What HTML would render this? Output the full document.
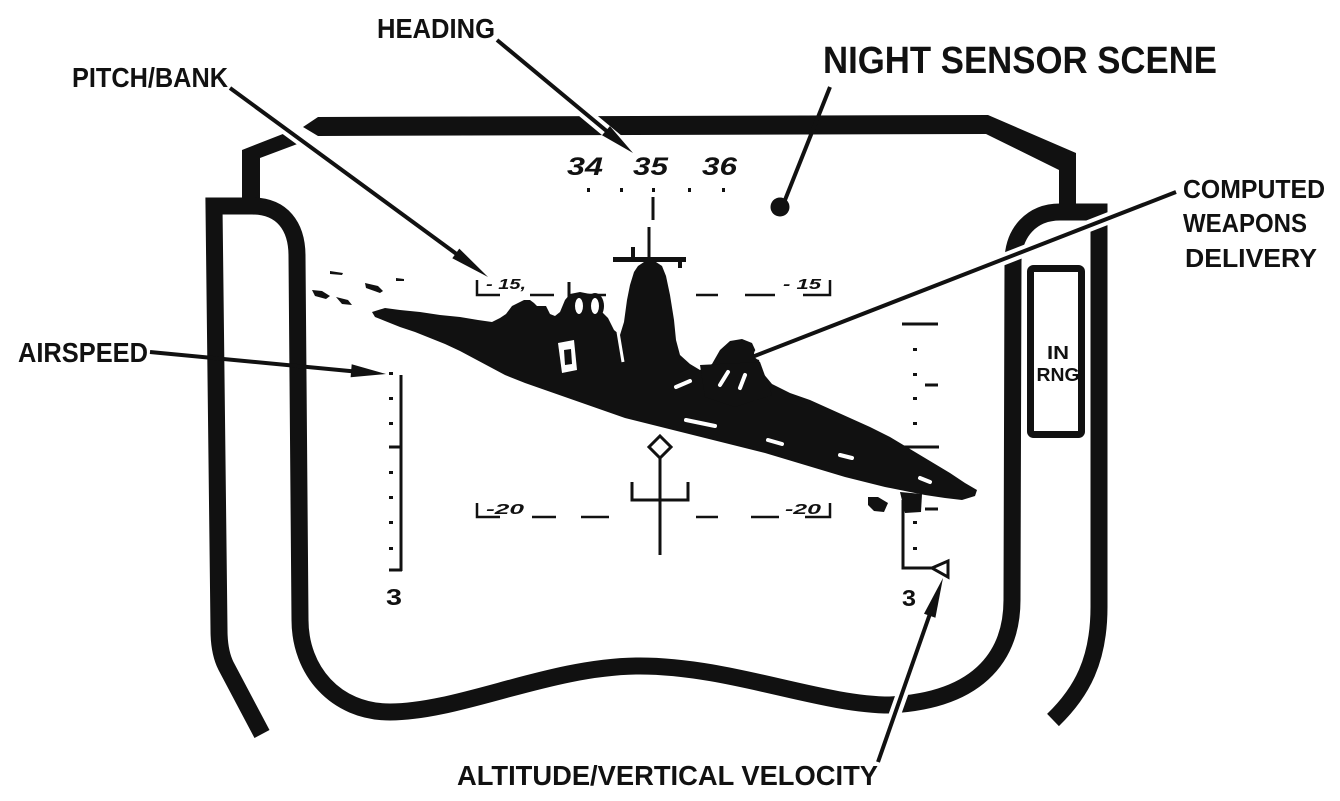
<!DOCTYPE html>
<html><head><meta charset="utf-8"><style>
html,body{margin:0;padding:0;background:#fff;}
svg{display:block;}
text{font-family:"Liberation Sans", Arial, sans-serif;}
.lbl{font-weight:bold;fill:#111;}
.hud{font-style:italic;font-weight:bold;fill:#111;}
</style></head><body>
<svg width="1340" height="801" viewBox="0 0 1340 801" xmlns="http://www.w3.org/2000/svg">
<rect width="1340" height="801" fill="#fff"/>

<!-- FRAME -->
<g fill="#111" stroke="none">
  <polygon points="303,127 318,117 988,115 1076,153 1076,214 1059,214 1059,170 986,134 318,136"/>
  <polygon points="242,200 242,150 288,132 300,143 260,158 260,200"/>
</g>
<path fill="none" stroke="#111" stroke-width="17" stroke-linejoin="miter"
  d="M 262,734 L 226,666 Q 219,652 219,630 L 214,206 L 252,206 C 282,206 297,226 297,256 L 300,620 C 300,670 335,712 390,712 C 460,712 550,666 640,666 C 730,666 820,705 890,705 C 985,700 1012,650 1012,600 L 1013,262 C 1013,232 1032,212 1060,212 L 1099,212 L 1099,607 C 1099,660 1082,692 1053,720"/>

<!-- IN RNG box -->
<rect x="1030.5" y="268.5" width="51" height="166" rx="3" fill="none" stroke="#111" stroke-width="7"/>
<text class="lbl" x="1058" y="359" font-size="18" text-anchor="middle" textLength="22" lengthAdjust="spacingAndGlyphs">IN</text>
<text class="lbl" x="1058" y="381" font-size="18" text-anchor="middle" textLength="43" lengthAdjust="spacingAndGlyphs">RNG</text>

<!-- HEADING TAPE -->
<text class="hud" x="567" y="175" font-size="25" textLength="36" lengthAdjust="spacingAndGlyphs">34</text>
<text class="hud" x="633" y="175" font-size="25" textLength="35" lengthAdjust="spacingAndGlyphs">35</text>
<text class="hud" x="702" y="175" font-size="25" textLength="35" lengthAdjust="spacingAndGlyphs">36</text>
<g fill="#111">
  <rect x="587" y="188" width="3" height="4"/>
  <rect x="620" y="188" width="3" height="4"/>
  <rect x="652" y="188" width="3" height="4"/>
  <rect x="688" y="188" width="3" height="4"/>
  <rect x="722" y="188" width="3" height="4"/>
</g>
<line x1="653" y1="197" x2="653" y2="220" stroke="#111" stroke-width="3"/>

<!-- PITCH LADDER -->
<g fill="none" stroke="#111" stroke-width="2.5">
  <polyline points="477,280 477,295 500,295"/>
  <line x1="530" y1="295" x2="554" y2="295"/>
  <line x1="580" y1="295" x2="606" y2="295"/>
  <line x1="696" y1="295" x2="718" y2="295"/>
  <line x1="745" y1="295" x2="775" y2="295"/>
  <polyline points="803,295 830,295 830,280"/>

  <polyline points="477,503 477,517 500,517"/>
  <line x1="532" y1="517" x2="556" y2="517"/>
  <line x1="581" y1="517" x2="609" y2="517"/>
  <line x1="696" y1="517" x2="718" y2="517"/>
  <line x1="751" y1="517" x2="779" y2="517"/>
  <polyline points="805,517 830,517 830,503"/>
</g>
<text class="hud" x="486" y="289" font-size="15" textLength="40" lengthAdjust="spacingAndGlyphs">- 15,</text>
<text class="hud" x="783" y="289" font-size="15" textLength="38" lengthAdjust="spacingAndGlyphs">- 15</text>
<text class="hud" x="486" y="514" font-size="15" textLength="38" lengthAdjust="spacingAndGlyphs">-20</text>
<text class="hud" x="785" y="514" font-size="15" textLength="36" lengthAdjust="spacingAndGlyphs">-20</text>

<!-- AIRSPEED SCALE -->
<g fill="none" stroke="#111" stroke-width="3">
  <line x1="401" y1="375" x2="401" y2="571"/>
  <line x1="389" y1="570" x2="402" y2="570"/>
  <line x1="389" y1="447" x2="401" y2="447"/>
</g>
<g fill="#111">
  <rect x="389" y="372" width="4" height="3"/>
  <rect x="389" y="397" width="4" height="3"/>
  <rect x="389" y="422" width="4" height="3"/>
  <rect x="389" y="471" width="4" height="3"/>
  <rect x="389" y="496" width="4" height="3"/>
  <rect x="389" y="521" width="4" height="3"/>
  <rect x="389" y="547" width="4" height="3"/>
</g>
<text x="386" y="605" font-size="23" font-weight="bold" fill="#111" textLength="16" lengthAdjust="spacingAndGlyphs">3</text>

<!-- ALTITUDE SCALE -->
<g fill="none" stroke="#111" stroke-width="3">
  <line x1="902" y1="324" x2="938" y2="324"/>
  <line x1="925" y1="385" x2="938" y2="385"/>
  <line x1="902" y1="447" x2="939" y2="447"/>
  <line x1="925" y1="509" x2="938" y2="509"/>
  <polyline points="903,500 903,568 932,568"/>
  <polygon points="932,568 948,561 948,577"/>
</g>
<g fill="#111">
  <rect x="913" y="348" width="4" height="3"/>
  <rect x="913" y="373" width="4" height="3"/>
  <rect x="913" y="397" width="4" height="3"/>
  <rect x="913" y="422" width="4" height="3"/>
  <rect x="913" y="521" width="4" height="3"/>
  <rect x="913" y="547" width="4" height="3"/>
</g>
<text x="902" y="606" font-size="23" font-weight="bold" fill="#111" textLength="14" lengthAdjust="spacingAndGlyphs">3</text>

<!-- SHIP -->
<g fill="#111">
  <polygon points="372,312 385,308 400,310 420,312 440,315 460,317 478,320 492,322 500,318 506,314 512,306 518,303 524,300 530,300 534,303 537,306 546,306 550,314 555,316 560,312 565,300 570,294 580,292 590,294 597,300 602,312 608,318 614,330 620,335 624,322 627,300 630,285 634,272 638,266 644,262 656,262 662,266 666,276 670,295 674,320 676,340 680,355 690,364 700,370 712,364 720,350 730,341 742,339 752,343 758,356 762,372 772,384 790,393 810,400 830,409 850,418 870,427 890,437 910,449 930,461 950,473 965,483 977,490 975,496 962,500 945,498 925,495 905,491 885,487 865,482 845,477 825,471 805,465 785,459 765,453 745,448 725,443 705,438 685,433 665,428 645,423 625,418 605,411 585,404 565,397 545,390 525,383 505,375 490,367 475,359 460,351 445,344 430,338 415,332 400,327 385,321 375,317"/>
  <rect x="613" y="257" width="73" height="5"/>
  <rect x="631" y="247" width="4" height="12"/>
  <rect x="678" y="258" width="4" height="10"/>
  <polygon points="700,365 760,362 772,395 735,407 705,397"/>
  <polygon points="868,497 878,497 888,503 884,512 874,511 868,505"/>
  <polygon points="900,492 922,494 921,512 905,513"/>
  <polygon points="312,290 322,291 330,296 326,299 315,296"/>
  <polygon points="336,297 348,300 352,305 342,304"/>
  <polygon points="330,271 343,273 342,275 330,274"/>
  <polygon points="365,283 378,286 383,291 380,293 366,288"/>
  <polygon points="396,278 404,279 404,281 396,281"/>
</g>
<line x1="649" y1="227" x2="649" y2="262" stroke="#111" stroke-width="3"/>
<line x1="569" y1="282" x2="569" y2="300" stroke="#111" stroke-width="3"/>
<ellipse cx="579" cy="306" rx="9" ry="13" fill="#111"/>
<ellipse cx="595" cy="306" rx="9" ry="13" fill="#111"/>
<ellipse cx="579" cy="306" rx="4" ry="8" fill="#fff"/>
<ellipse cx="595" cy="306" rx="4" ry="8" fill="#fff"/>
<!-- ship white details -->
<polygon points="558,343 574,340 577,370 562,373" fill="#fff"/>
<polygon points="564,350 571,349 572,364 565,365" fill="#111"/>
<g stroke="#fff" stroke-width="4" fill="none" stroke-linecap="round">
  <line x1="676" y1="387" x2="690" y2="381"/>
  <line x1="686" y1="420" x2="715" y2="426"/>
  <line x1="768" y1="440" x2="782" y2="444"/>
  <line x1="720" y1="385" x2="728" y2="372"/>
  <line x1="740" y1="388" x2="745" y2="375"/>
  <line x1="840" y1="455" x2="852" y2="458"/>
  <line x1="920" y1="478" x2="930" y2="482"/>
</g>
<line x1="618" y1="332" x2="623" y2="362" stroke="#fff" stroke-width="3"/>

<!-- FLIGHT PATH SYMBOL -->
<g fill="none" stroke="#111" stroke-width="3">
  <polyline points="632,482 632,500 688,500 688,482"/>
  <line x1="660" y1="458" x2="660" y2="555"/>
  <polygon points="660,436 671,447 660,458 649,447" fill="#fff"/>
</g>

<!-- LEADER HALOS -->
<g stroke="#fff" stroke-width="12" fill="none" stroke-linecap="round">
  <line x1="497" y1="40" x2="633" y2="153"/>
  <line x1="230" y1="88" x2="488" y2="277"/>
  <line x1="1176" y1="192" x2="760" y2="354"/>
  <line x1="878" y1="762" x2="940" y2="587"/>
</g>

<!-- LEADERS -->
<g stroke="#111" stroke-width="4" fill="none">
  <line x1="497" y1="40" x2="615" y2="138"/>
  <line x1="230" y1="88" x2="462" y2="258"/>
  <line x1="150" y1="352" x2="360" y2="372"/>
  <line x1="878" y1="762" x2="932" y2="608"/>
  <line x1="1176" y1="192" x2="752" y2="357"/>
  <line x1="830" y1="87" x2="783" y2="205"/>
</g>
<g fill="#111">
  <polygon points="633,153 602,135.3 609.9,126.1"/>
  <polygon points="488,277 452.3,258.2 459.3,248.6"/>
  <polygon points="386,374 350.6,377.2 351.7,364.2"/>
  <polygon points="943,578 935.4,617.7 924,613.7"/>
  <circle cx="780" cy="207" r="9.5"/>
</g>

<!-- LABELS -->
<text class="lbl" x="377" y="38" font-size="28" textLength="118" lengthAdjust="spacingAndGlyphs">HEADING</text>
<text class="lbl" x="72" y="87" font-size="28" textLength="156" lengthAdjust="spacingAndGlyphs">PITCH/BANK</text>
<text class="lbl" x="823" y="73" font-size="38" textLength="394" lengthAdjust="spacingAndGlyphs">NIGHT SENSOR SCENE</text>
<text class="lbl" x="1183" y="198" font-size="26" textLength="142" lengthAdjust="spacingAndGlyphs">COMPUTED</text>
<text class="lbl" x="1183" y="232" font-size="26" textLength="124" lengthAdjust="spacingAndGlyphs">WEAPONS</text>
<text class="lbl" x="1185" y="267" font-size="26" textLength="132" lengthAdjust="spacingAndGlyphs">DELIVERY</text>
<text class="lbl" x="18" y="362" font-size="28" textLength="130" lengthAdjust="spacingAndGlyphs">AIRSPEED</text>
<text class="lbl" x="457" y="785" font-size="28" textLength="421" lengthAdjust="spacingAndGlyphs">ALTITUDE/VERTICAL VELOCITY</text>
</svg>
</body></html>
